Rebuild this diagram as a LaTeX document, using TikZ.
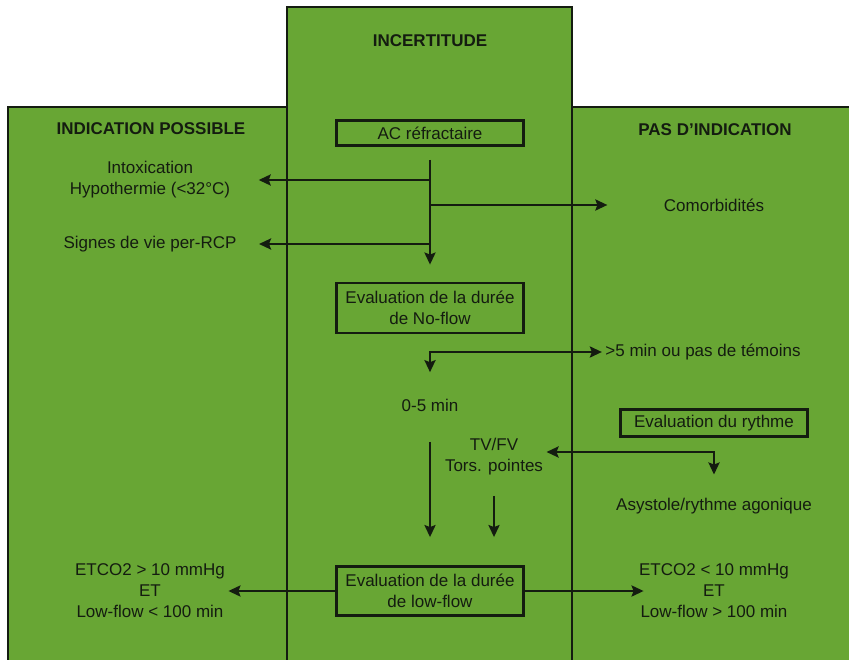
\documentclass[tikz,border=0pt]{standalone}
\usepackage{fontspec}
\setmainfont{Liberation Sans}
\usetikzlibrary{arrows.meta}
\definecolor{panelgreen}{RGB}{104,166,52}
\definecolor{inkdark}{RGB}{20,28,16}

\begin{document}
\begin{tikzpicture}[x=1pt, y=-1pt, >={Stealth[length=12pt, width=11pt, inset=2pt]},
    every node/.style={font=\fontsize{17}{21}\selectfont, text=inkdark, align=center},
    title/.style={font=\fontsize{17}{21}\selectfont\bfseries},
    box/.style={draw=inkdark, line width=2.8pt, minimum width=187pt},
    panel/.style={fill=panelgreen, draw=inkdark, line width=1.3pt},
    arrow/.style={->, draw=inkdark, line width=2.8pt}]

        \useasboundingbox (0,0) rectangle (849,660);
        \clip (0,0) rectangle (849,660);

        % Panels.
        \draw[panel] (8,107) rectangle (287,680);
        \draw[panel] (572,107) rectangle (870,680);
        \draw[panel] (287,7) rectangle (572,680);

        % Column headings.
        \node[title] (incert) at (430,41) {INCERTITUDE};
        \node[title] (possible) at (151,129) {INDICATION POSSIBLE};
        \node[title] (noindic) at (715,130) {PAS D'INDICATION};

        % Central boxes.
        \node[box, minimum height=25pt] (ac) at (430,133) {AC réfractaire};
        \node[box, minimum height=50pt] (noflow) at (430,308) {Evaluation de la durée\\de No-flow};
        \node[box, minimum height=27pt] (rythme) at (714,423) {Evaluation du rythme};
        \node[box, minimum height=49pt] (lowflow) at (430,591) {Evaluation de la durée\\de low-flow};

        % Outcomes.
        \node (intox) at (150,180) {Intoxication\\Hypothermie (<32°C)};
        \node (comorb) at (714,205) {Comorbidités};
        \node (signes) at (150,244) {Signes de vie per-RCP};
        \node (late) at (703,352) {>5 min ou pas de témoins};
        \node (early) at (430,405) {0-5 min};
        \node (tvfv) at (494,457) {TV/FV\\Tors. pointes};
        \node (asyst) at (714,506) {Asystole/rythme agonique};
        \node (lowA) at (150,591) {ETCO2 > 10 mmHg\\ET\\Low-flow < 100 min};
        \node (lowB) at (714,591) {ETCO2 < 10 mmHg\\ET\\Low-flow > 100 min};

        % Trunk and its branches.
        \draw[arrow, shorten <=13pt, shorten >=17pt] (ac) -- (noflow);
        \draw[arrow, shorten >=25pt] (ac |- intox) -- (intox);
        \draw[arrow, shorten >=53pt] (ac |- comorb) -- (comorb);
        \draw[arrow, shorten >=19pt] (ac |- signes) -- (signes);

        % No-flow split.
        \coordinate (nfsplit) at (430,352);
        \draw[arrow, <->, shorten <=23pt] (early) -- (nfsplit) -- (late);

        % Rhythm split.
        \coordinate (rsplit) at (714,452);
        \draw[arrow, <->, shorten >=20pt] (tvfv.east |- rsplit) -- (rsplit) -- (asyst);

        % Towards low-flow.
        \draw[arrow, shorten <=27pt, shorten >=28pt] (early) -- (lowflow);
        \draw[arrow, shorten <=17pt, shorten >=28pt] (tvfv.south) -- (tvfv.south |- lowflow.north);
        \draw[arrow] (lowflow) -- (lowA);
        \draw[arrow, shorten >=-8pt] (lowflow) -- (lowB);

\end{tikzpicture}
\end{document}
